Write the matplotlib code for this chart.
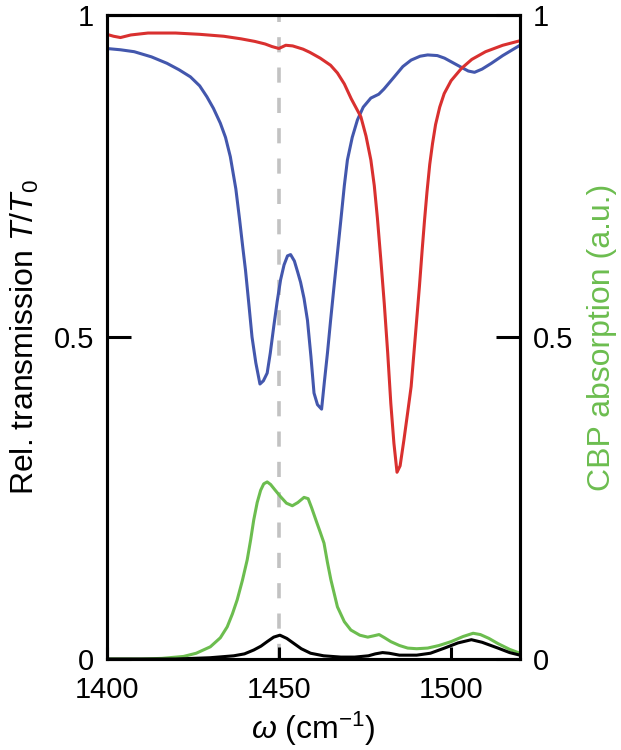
import matplotlib
matplotlib.use("Agg")
import matplotlib.pyplot as plt

# Transmission spectra
red_x = [1400, 1402, 1404, 1407, 1412, 1420, 1427, 1434, 1439, 1443, 1446, 1448,
         1450, 1452, 1454, 1457, 1459, 1462, 1465, 1467, 1469, 1471, 1473.8,
         1475.3, 1476.7, 1477.7, 1478.6, 1479.6, 1480.6, 1481.6, 1482.5, 1483.4,
         1484.3, 1485.2, 1486.3, 1487.4, 1488.4, 1489.6, 1490.8, 1491.6, 1492.3,
         1493.0, 1493.8, 1494.6, 1495.5, 1496.7, 1498, 1500, 1503, 1506, 1510,
         1515, 1520]
red_y = [0.970, 0.967, 0.965, 0.969, 0.972, 0.972, 0.970, 0.967, 0.963, 0.959,
         0.955, 0.951, 0.948, 0.953, 0.952, 0.947, 0.942, 0.933, 0.922, 0.910,
         0.893, 0.870, 0.842, 0.812, 0.775, 0.735, 0.685, 0.620, 0.552, 0.475,
         0.397, 0.335, 0.290, 0.300, 0.340, 0.383, 0.423, 0.500, 0.578, 0.635,
         0.682, 0.725, 0.768, 0.800, 0.830, 0.857, 0.878, 0.898, 0.917, 0.931,
         0.943, 0.953, 0.960]

blue_x = [1400, 1404, 1408, 1413, 1417.5, 1421, 1424.3, 1427, 1429.1, 1431, 1433,
          1434.5, 1435.9, 1437.5, 1438.6, 1439.5, 1440.3, 1441.3, 1442.2, 1443.3,
          1444.5, 1445.5, 1446.6, 1447.5, 1448.5, 1449.5, 1450.5, 1451.5, 1452.5,
          1453.4, 1454.5, 1455.5, 1456.3, 1457.3, 1458.3, 1459.3, 1460.2, 1461.2,
          1462.4, 1463.2, 1464.1, 1465, 1466, 1467, 1468, 1469, 1469.9, 1471.3,
          1472.8, 1474.5, 1476.7, 1479, 1480.5, 1483.5, 1486, 1488.4, 1491, 1493.2,
          1496, 1498.1, 1500.5, 1502.9, 1505, 1506.8, 1509, 1511.7, 1515, 1520]
blue_y = [0.948, 0.946, 0.943, 0.935, 0.925, 0.915, 0.904, 0.890, 0.873, 0.855,
          0.832, 0.810, 0.780, 0.730, 0.682, 0.640, 0.604, 0.550, 0.500, 0.460,
          0.427, 0.432, 0.444, 0.475, 0.516, 0.555, 0.589, 0.612, 0.626, 0.628,
          0.618, 0.600, 0.585, 0.560, 0.526, 0.470, 0.413, 0.395, 0.388, 0.430,
          0.475, 0.525, 0.578, 0.630, 0.682, 0.735, 0.775, 0.810, 0.837, 0.857,
          0.871, 0.877, 0.885, 0.904, 0.920, 0.930, 0.936, 0.938, 0.937, 0.933,
          0.926, 0.919, 0.913, 0.911, 0.916, 0.925, 0.937, 0.953]

# CBP absorption (right axis, a.u.)
green_x = [1400, 1410, 1416, 1422.3, 1426, 1430.1, 1433, 1435, 1436.5, 1437.9,
           1439.4, 1440.8, 1441.8, 1442.7, 1443.7, 1444.7, 1445.6, 1446.6, 1447.6,
           1448.8, 1450.5, 1452.2, 1453.9, 1455.5, 1457.3, 1458.5, 1459.5, 1461,
           1462, 1463.1, 1464.1, 1465.1, 1467, 1469, 1470.9, 1473.5, 1475.8,
           1477.5, 1479.1, 1480.7, 1482.5, 1485, 1487.4, 1490, 1493.2, 1496.5,
           1500, 1503.5, 1506.4, 1508.5, 1511, 1513.6, 1517, 1520]
green_y = [0.0, 0.0, 0.001, 0.004, 0.009, 0.019, 0.033, 0.050, 0.070, 0.092,
           0.122, 0.154, 0.185, 0.216, 0.243, 0.262, 0.272, 0.275, 0.271, 0.263,
           0.252, 0.242, 0.238, 0.243, 0.251, 0.249, 0.235, 0.212, 0.197, 0.180,
           0.150, 0.123, 0.081, 0.058, 0.045, 0.037, 0.034, 0.036, 0.038, 0.033,
           0.027, 0.021, 0.017, 0.016, 0.017, 0.021, 0.027, 0.035, 0.040, 0.038,
           0.032, 0.024, 0.015, 0.009]

black_x = [1400, 1420, 1430, 1436.9, 1440, 1442.7, 1444.8, 1446.6, 1448.5, 1450.3,
           1452.3, 1454.4, 1456.5, 1459.2, 1463, 1468, 1472, 1476, 1478, 1480.1,
           1482, 1485, 1490, 1494, 1498.1, 1502, 1505.9, 1509, 1513.6, 1517, 1520]
black_y = [0.0, 0.0, 0.002, 0.005, 0.008, 0.014, 0.020, 0.027, 0.034, 0.037,
           0.032, 0.024, 0.016, 0.009, 0.005, 0.003, 0.003, 0.005, 0.008, 0.010,
           0.009, 0.006, 0.006, 0.009, 0.017, 0.025, 0.030, 0.026, 0.017, 0.010,
           0.006]

marker_x = 1450
x_ticks = [1400, 1450, 1500]
y_ticks = [0, 0.5, 1]
y_ticklabels = ["0", "0.5", "1"]

RED = "#d9302f"
BLUE = "#4357ad"
GREEN = "#6cbd4f"

plt.rcParams["font.family"] = ["Liberation Sans", "DejaVu Sans"]
plt.rcParams["mathtext.fontset"] = "custom"
plt.rcParams["mathtext.rm"] = "Liberation Sans"
plt.rcParams["mathtext.it"] = "Liberation Sans:italic"

fig = plt.figure(figsize=(6.21, 7.5), dpi=100)
ax = fig.add_axes([0.1718, 0.1213, 0.6655, 0.8587])

ax.axvline(marker_x, color="#c2c2c2", lw=2.6, dashes=(4.2, 4.2), zorder=1)
ax.plot(green_x, green_y, color=GREEN, lw=2.2, zorder=2)
ax.plot(black_x, black_y, color="black", lw=2.2, zorder=3)
ax.plot(blue_x, blue_y, color=BLUE, lw=2.2, zorder=4)
ax.plot(red_x, red_y, color=RED, lw=2.2, zorder=5)

ax.set_xlim(1400, 1520)
ax.set_ylim(0, 1)
for s in ax.spines.values():
    s.set_linewidth(2.2)

ax.set_xticks(x_ticks)
ax.set_yticks(y_ticks)
ax.set_yticklabels(y_ticklabels)
ax.tick_params(axis="x", direction="in", length=8.5, width=2.2, labelsize=21, pad=12)
ax.tick_params(axis="y", direction="in", length=17, width=2.2, labelsize=21, pad=9)

ax2 = ax.twinx()
ax2.set_ylim(0, 1)
ax2.set_yticks(y_ticks)
ax2.set_yticklabels(y_ticklabels)
ax2.tick_params(axis="y", direction="in", length=17, width=2.2, labelsize=21, pad=9)
for s in ax2.spines.values():
    s.set_linewidth(2.2)

ax.set_xlabel(r"$\omega$ (cm$^{-1}$)", fontsize=23, labelpad=4)
ax.set_ylabel(r"Rel. transmission $T/T_0$", fontsize=23, labelpad=9)
ax2.set_ylabel("CBP absorption (a.u.)", fontsize=23, color=GREEN, labelpad=10)

fig.savefig("out.png", dpi=100)
